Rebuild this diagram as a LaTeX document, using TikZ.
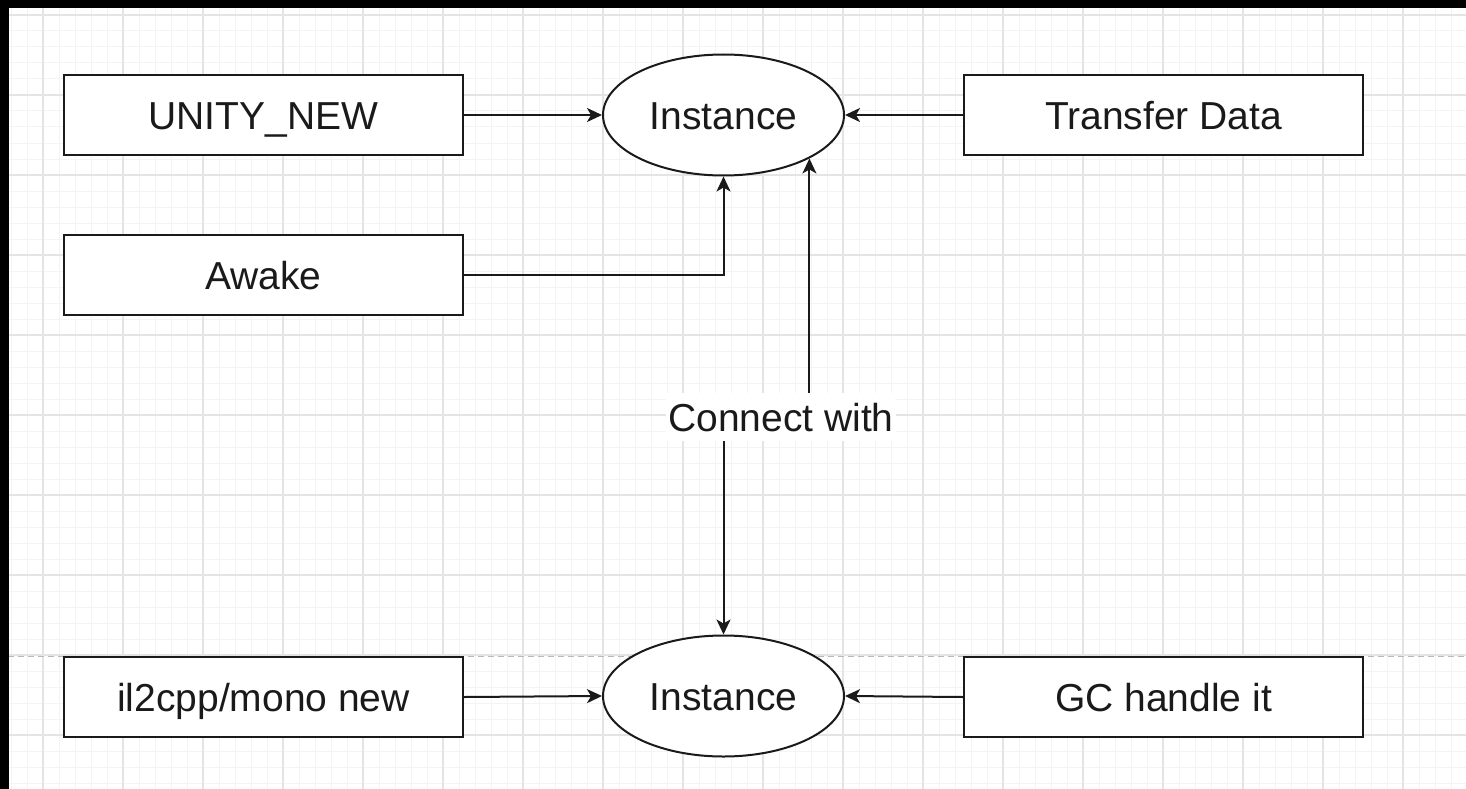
\documentclass[tikz,border=0pt]{standalone}
\usepackage{fontspec}
\setmainfont{Liberation Sans}
\usetikzlibrary{shapes.geometric,arrows.meta}
\definecolor{gridmajor}{RGB}{228,228,228}
\definecolor{gridminor}{RGB}{244,244,244}
\definecolor{ink}{RGB}{26,26,26}
\tikzset{
  every node/.style={font=\fontsize{39}{47}\selectfont, text=ink, text height=28pt, text depth=0pt},
  stepbox/.style={draw=ink, line width=2.2pt, fill=white, minimum width=399pt, minimum height=80pt, inner sep=0pt},
  inst/.style={ellipse, draw=ink, line width=2pt, fill=white, minimum width=241pt, minimum height=121pt, inner sep=0pt},
  conn/.style={draw=ink, line width=2pt, -{Stealth[length=15pt,width=14pt,inset=4pt]}},
  biconn/.style={draw=ink, line width=2pt, {Stealth[length=15pt,width=14pt,inset=4pt]}-{Stealth[length=15pt,width=14pt,inset=4pt]}},
  lbl/.style={fill=white, inner sep=2pt, minimum height=48pt}
}
\begin{document}
\begin{tikzpicture}[x=1pt,y=-1pt]
\useasboundingbox (0,0) rectangle (1466,789);
\fill[white] (0,0) rectangle (1466,789);
% grid
\foreach \x in {11,27,...,1466} \draw[gridminor, line width=1pt] (\x,8) -- (\x,789);
\foreach \y in {15,31,...,789} \draw[gridminor, line width=1pt] (8,\y) -- (1466,\y);
\foreach \x in {43,123,...,1466} \draw[gridmajor, line width=1.2pt] (\x,8) -- (\x,789);
\foreach \y in {15,95,...,789} \draw[gridmajor, line width=1.2pt] (8,\y) -- (1466,\y);
% page break
\draw[gray!55, line width=1pt, dash pattern=on 6pt off 4pt] (8,656) -- (1466,656);
% black strips
\fill[black] (0,0) rectangle (1466,8);
\fill[black] (0,0) rectangle (8.5,789);
% nodes
\node[stepbox] (u) at (263.5,115) {UNITY\_NEW};
\node[stepbox] (t) at (1163.5,115) {Transfer Data};
\node[stepbox] (aw) at (263.5,275) {Awake};
\node[stepbox] (il) at (263.5,697) {il2cpp/mono new};
\node[stepbox] (gc) at (1163.5,697) {GC handle it};
\node[inst] (i1) at (723.5,115) {Instance};
\node[inst] (i2) at (723.5,696) {Instance};
% connectors
\draw[conn] (u.east) -- (i1.west);
\draw[conn] (t.west) -- (i1.east);
\draw[conn] (aw.east) -| (i1.south);
\draw[conn] (il.east) -- (i2.west);
\draw[conn] (gc.west) -- (i2.east);
\coordinate (cw) at (781,417);
\draw[biconn] (i1.south east) -- (i1.south east |- cw) -- (i2.north |- cw) -- (i2.north);
\node[lbl] (cwl) at (cw) {Connect with};
\end{tikzpicture}
\end{document}
